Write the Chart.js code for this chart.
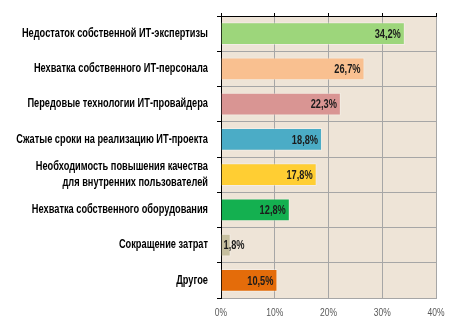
<!DOCTYPE html>
<html><head><meta charset="utf-8">
<script src="https://cdn.jsdelivr.net/npm/chart.js@4"></script>
<style>html,body{margin:0;padding:0;background:#fff}#w{width:455px;height:327px}</style>
</head><body><div id="w"><canvas id="c" width="455" height="327"></canvas></div>
<script>
const categories = [
  'Недостаток собственной ИТ-экспертизы',
  'Нехватка собственного ИТ-персонала',
  'Передовые технологии ИТ-провайдера',
  'Сжатые сроки на реализацию ИТ-проекта',
  ['Необходимость повышения качества', 'для внутренних пользователей'],
  'Нехватка собственного оборудования',
  'Сокращение затрат',
  'Другое'
];
const values = [34.2, 26.7, 22.3, 18.8, 17.8, 12.8, 1.8, 10.5];
const valueLabels = ['34,2%', '26,7%', '22,3%', '18,8%', '17,8%', '12,8%', '1,8%', '10,5%'];
const barColors = ['#9DD67B', '#F9C090', '#D99593', '#4BACC6', '#FFCE33', '#14B050', '#C6BF9E', '#E46C0A'];
const tickLabels = ['0%', '10%', '20%', '30%', '40%'];

const FONT = '"Liberation Sans", Arial, sans-serif';
const SQUEEZE = 0.77;

function narrowText(ctx, text, x, y, align, sq) {
  const s = sq || SQUEEZE;
  const w = ctx.measureText(text).width * s;
  let left = x;
  if (align === 'right') left = x - w;
  else if (align === 'center') left = x - w / 2;
  ctx.save();
  ctx.translate(left, y);
  ctx.scale(s, 1);
  ctx.textAlign = 'left';
  ctx.fillText(text, 0, 0);
  ctx.restore();
  return w;
}

const bgPlugin = {
  id: 'bg',
  beforeDraw(chart) {
    const a = chart.chartArea, ctx = chart.ctx;
    ctx.save();
    ctx.fillStyle = '#EEE4D7';
    ctx.fillRect(a.left, a.top, a.right - a.left, a.bottom - a.top);
    ctx.restore();
  }
};
const labelPlugin = {
  id: 'vlabels',
  afterDatasetsDraw(chart) {
    const ctx = chart.ctx;
    const meta = chart.getDatasetMeta(0);
    ctx.save();
    ctx.font = 'bold 12px ' + FONT;
    ctx.fillStyle = '#1b1b1b';
    ctx.textBaseline = 'middle';
    meta.data.forEach((bar, i) => {
      const t = valueLabels[i];
      const w = ctx.measureText(t).width * SQUEEZE;
      const len = bar.x - bar.base;
      if (w + 6 > len) narrowText(ctx, t, bar.base + 2, bar.y + 1, 'left');
      else narrowText(ctx, t, bar.x - 4, bar.y + 1, 'right');
    });
    ctx.restore();
  },
  afterDraw(chart) {
    const ctx = chart.ctx;
    const ys = chart.scales.y, xs = chart.scales.x;
    ctx.save();
    ctx.textBaseline = 'middle';
    ctx.font = 'bold 12px ' + FONT;
    ctx.fillStyle = '#000';
    const rightX = ys.right - 13;
    categories.forEach((lab, i) => {
      const cy = ys.getPixelForTick(i);
      const lines = Array.isArray(lab) ? lab : [lab];
      const lh = 16;
      lines.forEach((ln, k) => {
        const y = cy + (k - (lines.length - 1) / 2) * lh;
        narrowText(ctx, ln, rightX, y, 'right');
      });
    });
    ctx.font = '10px ' + FONT;
    ctx.fillStyle = '#595959';
    xs.ticks.forEach((t, i) => {
      narrowText(ctx, tickLabels[i], xs.getPixelForValue(t.value), xs.top + 15, 'center', 0.85);
    });
    ctx.restore();
  }
};

new Chart(document.getElementById('c'), {
  type: 'bar',
  data: {
    labels: categories,
    datasets: [{
      data: values,
      backgroundColor: barColors,
      borderColor: 'rgba(255,255,255,0.35)',
      borderWidth: 1,
      barPercentage: 0.65,
      categoryPercentage: 1
    }]
  },
  options: {
    indexAxis: 'y',
    responsive: false,
    animation: false,
    devicePixelRatio: 1,
    layout: { padding: { left: 0, right: 19, top: 0, bottom: 0 } },
    plugins: { legend: { display: false }, tooltip: { enabled: false } },
    scales: {
      x: {
        position: 'bottom',
        min: 0, max: 40,
        ticks: { stepSize: 10, display: false },
        grid: { color: '#A6A6A6', drawTicks: false, lineWidth: 1 },
        border: { color: '#A6A6A6' },
        afterFit: (s) => { s.height = 29; }
      },
      x2: {
        position: 'top',
        axis: 'x',
        min: 0, max: 40,
        ticks: { stepSize: 10, display: false },
        grid: { drawOnChartArea: false, drawTicks: true, tickLength: 3, tickColor: '#000' },
        border: { color: '#000' },
        afterFit: (s) => { s.height = 16; }
      },
      y: {
        position: 'left',
        ticks: { display: false },
        grid: { color: '#A6A6A6', tickColor: '#000', tickLength: 4, offset: true },
        border: { color: '#000' },
        afterFit: (s) => { s.width = 221; }
      }
    }
  },
  plugins: [bgPlugin, labelPlugin]
});
</script>
</body></html>
